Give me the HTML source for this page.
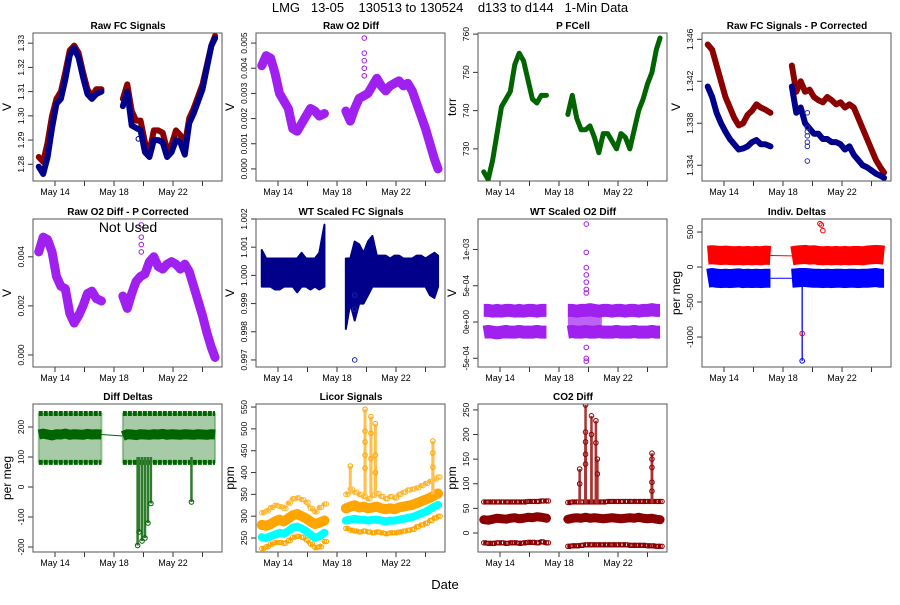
<!DOCTYPE html>
<html><head><meta charset="utf-8"><style>
body{margin:0;background:#fff;}
svg text{font-family:"Liberation Sans",sans-serif;white-space:pre;}
</style></head><body>
<svg id="c" width="900" height="600" xmlns="http://www.w3.org/2000/svg">
<text x="450" y="12" font-size="13" text-anchor="middle" xml:space="preserve">LMG   13-05    130513 to 130524    d133 to d144   1-Min Data</text>
<text x="445" y="589" font-size="13" text-anchor="middle">Date</text>
</svg>
<script>
// shared time grid (day of May), null = data gap
const days=[12.9,13.2,13.5,13.8,14.1,14.4,14.7,15.0,15.3,15.6,15.9,16.2,16.5,16.8,17.15,null,18.6,18.9,19.2,19.5,19.8,20.1,20.4,20.7,21.0,21.3,21.6,21.9,22.2,22.5,22.8,23.1,23.4,23.7,24.0,24.3,24.6,24.85];
const xTicks=[14,16,18,20,22,24];
const xTickLabels=['May 14','','May 18','','May 22',''];
const rawFcRed=[1.283,1.281,1.289,1.300,1.307,1.310,1.318,1.327,1.329,1.326,1.318,1.311,1.308,1.311,1.311,null,1.307,1.313,1.302,1.298,1.298,1.289,1.285,1.294,1.294,1.293,1.286,1.288,1.294,1.292,1.288,1.299,1.303,1.308,1.313,1.321,1.329,1.333];
const rawFcBlue=[1.279,1.276,1.283,1.295,1.305,1.307,1.315,1.325,1.328,1.324,1.316,1.309,1.307,1.309,1.310,null,1.304,1.310,1.296,1.295,1.294,1.285,1.283,1.290,1.290,1.289,1.283,1.285,1.290,1.289,1.284,1.297,1.301,1.306,1.311,1.320,1.329,1.332];
const rawO2=[0.0041,0.0045,0.0044,0.0038,0.0030,0.0027,0.0024,0.0016,0.0015,0.0018,0.0021,0.0024,0.0023,0.0021,0.0022,null,0.0023,0.0019,0.0024,0.0028,0.0029,0.0030,0.0033,0.0036,0.0033,0.0031,0.0033,0.0034,0.0035,0.0033,0.0034,0.0031,0.0026,0.0021,0.0016,0.0010,0.0004,0.0000];
const pCell=[724,722,727,734,741,743,745,752,755,753,748,743,742,744,744,null,739,744,738,735,735,736,733,729,734,734,732,730,734,733,730,735,740,743,747,750,756,759];
const pCorrRed=[1.3455,1.3450,1.3435,1.3420,1.3405,1.3395,1.3385,1.3378,1.3380,1.3388,1.3392,1.3398,1.3395,1.3393,1.3390,null,1.3435,1.3410,1.3420,1.3410,1.3412,1.3405,1.3402,1.3400,1.3405,1.3402,1.3398,1.3400,1.3395,1.3398,1.3395,1.3385,1.3375,1.3365,1.3355,1.3345,1.3338,1.3333];
const pCorrBlue=[1.3415,1.3405,1.3390,1.3380,1.3372,1.3365,1.3360,1.3355,1.3356,1.3358,1.3362,1.3364,1.3360,1.3360,1.3358,null,1.3415,1.3390,1.3395,1.3380,1.3375,1.3370,1.3370,1.3365,1.3365,1.3362,1.3362,1.3360,1.3355,1.3358,1.3350,1.3345,1.3340,1.3338,1.3335,1.3332,1.3330,1.3328];
const o2Corr=[0.0042,0.0048,0.0047,0.0042,0.0032,0.0028,0.0027,0.0017,0.0013,0.0016,0.0020,0.0025,0.0026,0.0023,0.0022,null,0.0024,0.0019,0.0025,0.0030,0.0032,0.0033,0.0038,0.0040,0.0036,0.0035,0.0037,0.0038,0.0037,0.0035,0.0037,0.0034,0.0028,0.0022,0.0016,0.0009,0.0003,-0.0001];
const wtUpper=[1.0009,1.0006,1.0006,1.0006,1.0006,1.0006,1.0006,1.0006,1.0006,1.0008,1.0006,1.0006,1.0006,1.0008,1.0018,null,1.0006,1.0006,1.0012,1.0011,1.0008,1.0012,1.0014,1.0007,1.0007,1.0007,1.0006,1.0007,1.0007,1.0006,1.0006,1.0006,1.0007,1.0007,1.0006,1.0007,1.0008,1.0007];
const wtLower=[0.9996,0.9996,0.9996,0.9995,0.9995,0.9996,0.9996,0.9996,0.9994,0.9996,0.9996,0.9995,0.9996,0.9995,0.9996,null,0.9981,0.9990,0.9984,0.9990,0.9990,0.9993,0.9996,0.9996,0.9996,0.9996,0.9996,0.9996,0.9996,0.9996,0.9996,0.9996,0.9996,0.9996,0.9996,0.9993,0.9992,0.9996];
const wtO2Hi=[0.00016,0.00016,0.00015,0.00016,0.00015,0.00016,0.00016,0.00015,0.00016,0.00015,0.00016,0.00016,0.00015,0.00016,0.00016,null,0.00016,0.00016,0.00015,0.00016,0.00016,0.00017,0.00016,0.00015,0.00016,0.00016,0.00015,0.00016,0.00016,0.00015,0.00016,0.00016,0.00015,0.00016,0.00016,0.00017,0.00016,0.00016];
const wtO2Lo=[-0.00014,-0.00013,-0.00014,-0.00015,-0.00014,-0.00013,-0.00014,-0.00014,-0.00013,-0.00014,-0.00014,-0.00014,-0.00013,-0.00014,-0.00014,null,-0.00014,-0.00013,-0.00014,-0.00014,-0.00013,-0.00014,-0.00014,-0.00013,-0.00014,-0.00014,-0.00014,-0.00013,-0.00014,-0.00014,-0.00014,-0.00013,-0.00014,-0.00014,-0.00014,-0.00013,-0.00014,-0.00014];
const deltaRed=[170,175,170,165,170,165,160,165,160,165,160,165,160,170,165,null,160,170,175,180,170,175,165,160,165,160,165,160,165,160,165,165,160,170,175,180,175,170];
const deltaBlue=[-160,-150,-160,-165,-160,-165,-160,-155,-165,-160,-165,-160,-165,-160,-160,null,-160,-155,-150,-150,-155,-160,-160,-165,-160,-165,-160,-160,-165,-160,-160,-165,-160,-160,-155,-150,-160,-160];
const diffDelta=[175,178,175,172,176,175,178,174,176,175,174,177,175,176,175,null,170,176,175,173,176,175,174,176,175,177,174,176,175,174,176,175,174,176,175,174,176,175];
const licorMain=[280,278,282,288,292,288,295,302,305,300,295,288,282,285,290,null,318,322,325,320,322,318,320,322,318,316,318,316,320,322,324,326,330,334,338,342,348,352];
const licorCyan=[252,250,254,258,262,260,266,274,276,272,266,258,250,254,262,null,290,292,294,292,292,290,292,292,290,288,290,290,292,294,296,298,302,306,310,316,322,326];
const licorLow=[226,230,236,240,240,238,244,252,254,252,246,236,228,230,242,null,272,268,266,264,266,264,262,264,262,260,262,262,264,266,268,270,276,280,284,290,296,300];
const licorHigh=[308,312,320,325,322,318,330,340,342,338,332,318,310,320,328,null,350,362,355,350,345,340,348,352,345,340,345,342,350,355,360,362,365,370,375,380,385,390];
const co2Main=[27,26,28,30,29,28,30,31,29,30,32,31,33,32,30,null,28,30,31,30,32,30,31,30,29,30,31,30,29,30,31,30,32,30,29,30,28,27];
const co2Hi=[63,63,63,63,63,63,63,63,63,63,64,64,64,65,65,null,62,63,63,63,63,63,63,63,63,64,64,64,64,64,64,64,64,64,64,64,64,64];
const co2Lo=[-20,-21,-21,-20,-20,-21,-20,-20,-21,-20,-19,-19,-20,-18,-20,null,-27,-26,-26,-25,-24,-24,-24,-24,-24,-24,-24,-24,-24,-24,-25,-25,-25,-25,-26,-26,-27,-27];
const o2Spike=[[19.85,0.0052],[19.85,0.0046],[19.85,0.0043],[19.85,0.0040],[19.85,0.0037]];
const o2CorrSpike=[[19.85,0.0053],[19.85,0.0048],[19.85,0.0045],[19.85,0.0042]];
const wtO2Spike=[[19.85,0.00135],[19.85,0.00096],[19.85,0.00075],[19.85,0.00065],[19.85,0.00055],[19.85,0.00045],[19.85,0.0004],[19.85,-0.00035],[19.85,-0.0005],[19.85,-0.00054]];
const blueSpike=[[19.3,-160],[19.3,-1340]];
const redSpike=[[19.3,-950],[20.5,620],[20.6,600],[20.7,520]];
const diffSpikes=[[19.6,-195],[19.7,-150],[19.9,-180],[20.1,-170],[20.3,-120],[20.5,-55],[23.25,-50]];
const licorSpikes=[[19.9,545],[19.9,495],[19.9,470],[19.9,440],[19.9,410],[20.3,528],[20.3,490],[20.3,432],[20.6,512],[20.6,440],[20.6,400],[18.9,415],[24.5,472],[24.5,445],[24.5,412]];
const co2Spikes=[[19.8,260],[19.8,205],[19.8,185],[19.8,160],[19.8,140],[20.2,238],[20.2,200],[20.5,228],[20.5,183],[20.6,150],[20.6,120],[19.4,130],[19.4,100],[24.3,162],[24.3,150],[24.3,133],[24.3,103],[24.3,85]];
const fcpOut=[[19.65,1.3344],[19.65,1.3358],[19.65,1.3362],[19.65,1.3368],[19.65,1.3372],[19.65,1.3376],[19.65,1.3390]];

const NS='http://www.w3.org/2000/svg';
const svg=document.getElementById('c');
const D0=12.51,D1=25.32;
function mk(tag,attrs,parent){const e=document.createElementNS(NS,tag);for(const k in attrs)e.setAttribute(k,attrs[k]);(parent||svg).appendChild(e);return e;}
function panel(cfg){
  const g=mk('g',{});
  
  
  const cp='cp'+cfg.name;
  const cl=mk('clipPath',{id:cp},g);mk('rect',{x:cfg.l,y:cfg.t,width:189,height:148},cl);
  const p={g:g,
    x:d=>cfg.l+(d-D0)/(D1-D0)*189,
    y:v=>cfg.t+148-(v-cfg.ymin)/(cfg.ymax-cfg.ymin)*148,
    plot:mk('g',{'clip-path':'url(#'+cp+')'},g)};
  const t=mk('text',{x:cfg.l+95,y:cfg.t-4,'font-size':10,'font-weight':'bold','text-anchor':'middle'},g);t.textContent=cfg.title;
  
  
  const yl=mk('text',{x:cfg.l-22,y:cfg.t+74,'font-size':12,'text-anchor':'middle',transform:`rotate(-90 ${cfg.l-22} ${cfg.t+74})`},g);yl.textContent=cfg.ylab;
  
  
  xTicks.forEach((d,i)=>{const xx=p.x(d);mk('line',{x1:xx,x2:xx,y1:cfg.t+148,y2:cfg.t+153,stroke:'#333'},g);
    if(xTickLabels[i]){const tl=mk('text',{x:xx,y:cfg.t+162,'font-size':9,'text-anchor':'middle'},g);tl.textContent=xTickLabels[i];
      
      }});
  cfg.yt.forEach((v,i)=>{const yy=p.y(v);mk('line',{x1:cfg.l-5,x2:cfg.l,y1:yy,y2:yy,stroke:'#333'},g);
    const tl=mk('text',{x:cfg.l-9,y:yy,'font-size':8.5,'text-anchor':'middle',transform:`rotate(-90 ${cfg.l-9} ${yy})`},g);tl.textContent=cfg.yl[i];
    
    });
  mk('line',{x1:p.x(14),x2:p.x(24),y1:cfg.t+148,y2:cfg.t+148,stroke:'#333'},g);
  mk('line',{x1:cfg.l,x2:cfg.l,y1:p.y(cfg.yt[0]),y2:p.y(cfg.yt[cfg.yt.length-1]),stroke:'#333'},g);
  setTimeout(()=>mk('rect',{x:cfg.l,y:cfg.t,width:189,height:148,fill:'none',stroke:'#555'},g),0);
  return p;
}
function segs(vals){const out=[];let cur=[];days.forEach((d,i)=>{if(d===null||vals[i]===null){if(cur.length)out.push(cur);cur=[];}else cur.push([d,vals[i]]);});if(cur.length)out.push(cur);return out;}
function band(p,vals,color,w,name,join,cap){
  const ss=segs(vals);
  ss.forEach(s=>{const pl=mk('polyline',{points:s.map(q=>p.x(q[0])+','+p.y(q[1])).join(' '),fill:'none',stroke:color,'stroke-width':w,'stroke-linejoin':'round','stroke-linecap':cap||'round'},p.plot);
    
    });
  if(join&&ss.length>1){const a=ss[0][ss[0].length-1],b=ss[1][0];mk('line',{x1:p.x(a[0]),y1:p.y(a[1]),x2:p.x(b[0]),y2:p.y(b[1]),stroke:color,'stroke-width':1},p.plot);}
}
function area(p,hi,lo,color,name){
  const sh=segs(hi),sl=segs(lo);
  sh.forEach((s,k)=>{const l=sl[k];const pts=s.map(q=>p.x(q[0])+','+p.y(q[1])).concat(l.slice().reverse().map(q=>p.x(q[0])+','+p.y(q[1])));
    const pg=mk('polygon',{points:pts.join(' '),fill:color,stroke:color,'stroke-width':2,'stroke-linejoin':'round'},p.plot);
    
    });
}
function pts(p,arr,color,name,line){
  if(line){for(let i=0;i+1<arr.length;i+=2){mk('line',{x1:p.x(arr[i][0]),y1:p.y(arr[i][1]),x2:p.x(arr[i+1][0]),y2:p.y(arr[i+1][1]),stroke:color,'stroke-width':1.3},p.plot);}}
  arr.forEach(q=>{const c=mk('circle',{cx:p.x(q[0]),cy:p.y(q[1]),r:2.3,fill:'none',stroke:color,'stroke-width':1},p.plot);
    
    });
}
function row(p,vals,color,name,step){
  segs(vals).forEach(s=>{s.forEach((q,i)=>{[0,0.5].forEach(o=>{const c=mk('circle',{cx:p.x(q[0])+o*4,cy:p.y(q[1]),r:2.2,fill:'none',stroke:color,'stroke-width':1},p.plot);
    
    });});
    const pl=mk('polyline',{points:s.map(q=>p.x(q[0])+','+p.y(q[1])).join(' '),fill:'none',stroke:color,'stroke-width':step||4,'stroke-dasharray':'3 2'},p.plot);
    
    });
}
const T=[33,219,404],L=[33,256,478,702];
let p;
p=panel({name:'raw-fc-signals',l:L[0],t:T[0],ymin:1.2731,ymax:1.3342,yt:[1.28,1.29,1.30,1.31,1.32,1.33],yl:['1.28','1.29','1.30','1.31','1.32','1.33'],title:'Raw FC Signals',ylab:'V'});
band(p,rawFcRed,'#8b0000',6,'series-red');band(p,rawFcBlue,'#00008b',6,'series-blue');pts(p,[[19.65,1.2905]],'#00008b','outlier');
p=panel({name:'raw-o2-diff',l:L[1],t:T[0],ymin:-0.00048,ymax:0.0054,yt:[0,0.001,0.002,0.003,0.004,0.005],yl:['0.000','0.001','0.002','0.003','0.004','0.005'],title:'Raw O2 Diff',ylab:'V'});
band(p,rawO2,'#a020f0',9,'series-o2');pts(p,o2Spike,'#a020f0','spike');
p=panel({name:'p-fcell',l:L[2],t:T[0],ymin:721.6,ymax:760.3,yt:[730,740,750,760],yl:['730','740','750','760'],title:'P FCell',ylab:'torr'});
band(p,pCell,'#006400',5,'series-pressure');
p=panel({name:'raw-fc-p-corrected',l:L[3],t:T[0],ymin:1.3325,ymax:1.3466,yt:[1.334,1.338,1.342,1.346],yl:['1.334','1.338','1.342','1.346'],title:'Raw FC Signals - P Corrected',ylab:'V'});
band(p,pCorrRed,'#8b0000',6,'series-red');band(p,pCorrBlue,'#00008b',6,'series-blue');pts(p,fcpOut,'#3030b0','outlier');
p=panel({name:'raw-o2-diff-p-corrected',l:L[0],t:T[1],ymin:-0.00049,ymax:0.00554,yt:[0,0.002,0.004],yl:['0.000','0.002','0.004'],title:'Raw O2 Diff - P Corrected',ylab:'V'});
band(p,o2Corr,'#a020f0',9,'series-o2');pts(p,o2CorrSpike,'#a020f0','spike');
{const t=mk('text',{x:128,y:232,'font-size':14,'text-anchor':'middle'},p.g);t.textContent='Not Used';}
p=panel({name:'wt-scaled-fc-signals',l:L[1],t:T[1],ymin:0.99675,ymax:1.00200,yt:[0.997,0.998,0.999,1.000,1.001,1.002],yl:['0.997','0.998','0.999','1.000','1.001','1.002'],title:'WT Scaled FC Signals',ylab:'V'});
area(p,wtUpper,wtLower,'#00008b','series-wt-band');pts(p,[[19.2,0.9970],[19.2,0.9988],[19.2,0.9993]],'#2020b0','outlier');
p=panel({name:'wt-scaled-o2-diff',l:L[2],t:T[1],ymin:-0.00062,ymax:0.00142,yt:[-0.0005,0,0.0005,0.001],yl:['-5e-04','0e+00','5e-04','1e-03'],title:'WT Scaled O2 Diff',ylab:'V'});
band(p,wtO2Hi,'#a020f0',13,'series-upper',false,'butt');band(p,wtO2Lo,'#a020f0',13,'series-lower',false,'butt');
mk('rect',{x:p.x(18.6),y:p.y(0.0001),width:p.x(20.9)-p.x(18.6),height:p.y(-0.0001)-p.y(0.0001),fill:'#a020f0',opacity:0.7},p.plot);
pts(p,wtO2Spike,'#a020f0','spike');
p=panel({name:'indiv-deltas',l:L[3],t:T[1],ymin:-1428,ymax:686,yt:[-1000,-500,0,500],yl:['-1000','-500','0','500'],title:'Indiv. Deltas',ylab:'per meg'});
band(p,deltaRed,'#ff0000',19,'series-red',true,'butt');band(p,deltaBlue,'#0000ff',19,'series-blue',true,'butt');
pts(p,blueSpike,'#0000ff','spike',true);pts(p,redSpike,'#ff0000','spike');
p=panel({name:'diff-deltas',l:L[0],t:T[2],ymin:-216.7,ymax:276.7,yt:[-200,-100,0,100,200],yl:['-200','-100','0','100','200'],title:'Diff Deltas',ylab:'per meg'});
area(p,diffDelta.map(v=>v===null?null:245),diffDelta.map(v=>v===null?null:82),'rgba(60,140,60,0.45)','series-range');
band(p,diffDelta,'#006400',10,'series-diff',true,'butt');
segs(diffDelta).forEach(s=>{mk('line',{x1:p.x(s[0][0]),x2:p.x(s[s.length-1][0]),y1:p.y(245),y2:p.y(245),stroke:'#006400','stroke-width':5,'stroke-dasharray':'4 1'},p.plot);mk('line',{x1:p.x(s[0][0]),x2:p.x(s[s.length-1][0]),y1:p.y(82),y2:p.y(82),stroke:'#006400','stroke-width':5,'stroke-dasharray':'4 1'},p.plot);});
diffSpikes.forEach(q=>{mk('line',{x1:p.x(q[0]),x2:p.x(q[0]),y1:p.y(100),y2:p.y(q[1]),stroke:'#2e7d2e','stroke-width':2.5},p.plot);});
pts(p,diffSpikes,'#006400','spike');
p=panel({name:'licor-signals',l:L[1],t:T[2],ymin:218,ymax:557,yt:[250,300,350,400,450,500,550],yl:['250','300','350','400','450','500','550'],title:'Licor Signals',ylab:'ppm'});
row(p,licorLow,'#ffa500','series-low');row(p,licorHigh,'#ffb733','series-high');
band(p,licorMain,'#ffa500',10,'series-main');band(p,licorCyan,'#00ffff',8,'series-cyan');
licorSpikes.forEach(q=>{mk('line',{x1:p.x(q[0]),x2:p.x(q[0]),y1:p.y(350),y2:p.y(q[1]),stroke:'#ffc04d','stroke-width':3},p.plot);});
pts(p,licorSpikes,'#ffa500','spike');
p=panel({name:'co2-diff',l:L[2],t:T[2],ymin:-38.6,ymax:262,yt:[0,50,100,150,200,250],yl:['0','50','100','150','200','250'],title:'CO2 Diff',ylab:'ppm'});
row(p,co2Hi,'#8b0000','series-high',5);row(p,co2Lo,'#8b0000','series-low',5);
band(p,co2Main,'#8b0000',9,'series-main');
co2Spikes.forEach(q=>{mk('line',{x1:p.x(q[0]),x2:p.x(q[0]),y1:p.y(60),y2:p.y(q[1]),stroke:'#a33','stroke-width':2.5},p.plot);});
pts(p,co2Spikes,'#8b0000','spike');
</script>
</body></html>
